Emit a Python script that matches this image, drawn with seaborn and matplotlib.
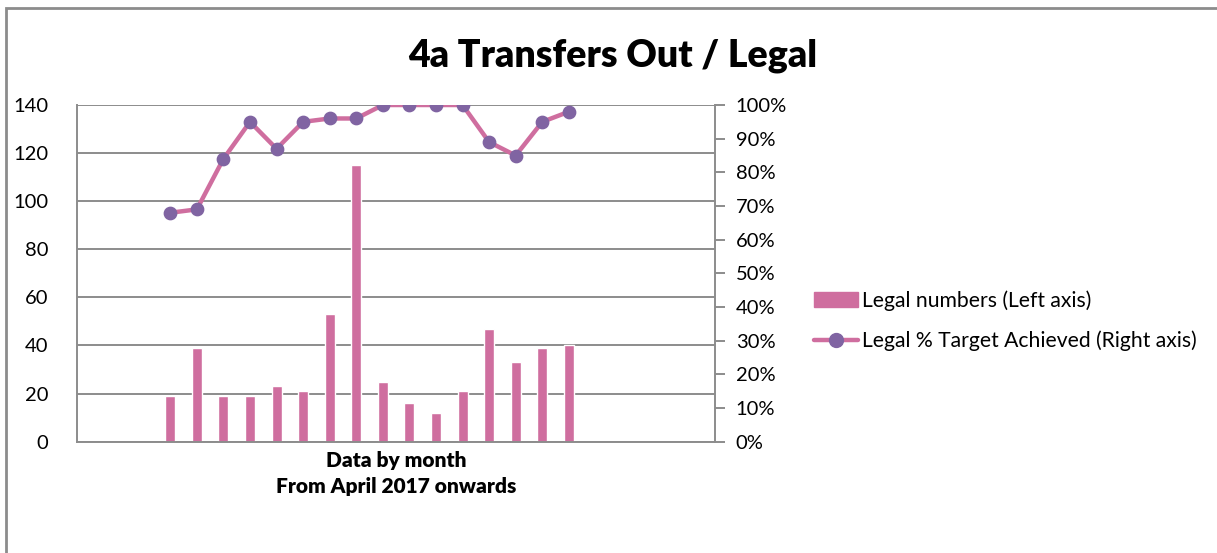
import numpy as np
import pandas as pd
import seaborn as sns
import matplotlib
matplotlib.use("Agg")
import matplotlib.pyplot as plt
from matplotlib.patches import Patch, Rectangle
from matplotlib.lines import Line2D
from matplotlib.ticker import PercentFormatter

# full month axis (Jan 2017 - Dec 2018), data only from April 2017
all_months = [f"{m} {y}" for y in (2017, 2018)
              for m in ["Jan", "Feb", "Mar", "Apr", "May", "Jun",
                        "Jul", "Aug", "Sep", "Oct", "Nov", "Dec"]]
data_months = all_months[3:19]

legal_numbers = [19, 39, 19, 19, 23, 21, 53, 115, 25, 16, 12, 21, 47, 33, 39, 40]
legal_pct = [0.68, 0.69, 0.84, 0.95, 0.87, 0.95, 0.96, 0.96,
             1.00, 1.00, 1.00, 1.00, 0.89, 0.85, 0.95, 0.98]

bar_label = "Legal numbers (Left axis)"
line_label = "Legal % Target Achieved (Right axis)"

pink = "#CF6E9F"
purple = "#8064A2"
grid_grey = "#8C8C8C"

df = pd.DataFrame({"month": data_months,
                   "numbers": legal_numbers,
                   "pct": legal_pct})

sns.set_style("white")
plt.rcParams["font.family"] = ["Lato", "DejaVu Sans"]
plt.rcParams["text.color"] = "black"
plt.rcParams["xtick.color"] = "black"
plt.rcParams["ytick.color"] = "black"
plt.rcParams["axes.labelcolor"] = "black"

fig = plt.figure(figsize=(12.17, 5.53), dpi=100)
ax = fig.add_axes([0.0635, 0.2013, 0.524, 0.6088])

sns.barplot(data=df, x="month", y="numbers", order=all_months,
            color=pink, saturation=1, width=0.38, ax=ax, zorder=2)
ax.set_ylim(0, 140)
ax.set_yticks(np.arange(0, 141, 20))
ax.yaxis.grid(True, color=grid_grey, lw=1.4)
ax.set_axisbelow(True)
ax.tick_params(axis="y", length=0, labelsize=14.5, pad=21)
ax.set_xticks([])
ax.set_ylabel("")
ax.set_xlabel("Data by month\nFrom April 2017 onwards",
              fontsize=15, fontweight="heavy", labelpad=7, linespacing=1.4)
for side in ["left", "bottom"]:
    ax.spines[side].set_color(grid_grey)
    ax.spines[side].set_linewidth(1.4)
for side in ["top", "right"]:
    ax.spines[side].set_visible(False)

ax2 = ax.twinx()
sns.pointplot(data=df, x="month", y="pct", order=all_months,
              color=pink, errorbar=None, markers="o", ax=ax2,
              linewidth=3.2, markersize=7.5)
for ln in ax2.lines:
    ln.set_markerfacecolor(purple)
    ln.set_markeredgecolor(purple)
ax2.set_ylim(0, 1)
ax2.set_yticks(np.arange(0, 1.01, 0.1))
ax2.yaxis.set_major_formatter(PercentFormatter(1.0, decimals=0))
ax2.tick_params(axis="y", length=7, width=1.4, color=grid_grey,
                labelcolor="black", labelsize=14.5, pad=8)
ax2.set_ylabel("")
ax2.set_xlabel("")
ax2.set_xticks([])
for side in ["top", "left", "bottom"]:
    ax2.spines[side].set_visible(False)
ax2.spines["right"].set_color(grid_grey)
ax2.spines["right"].set_linewidth(1.4)
ax.set_xlim(-0.5, len(all_months) - 0.5)

fig.suptitle("4a Transfers Out / Legal", x=0.5035, y=0.93,
             fontsize=27, fontweight="heavy")

handles = [Patch(facecolor=pink, edgecolor=pink),
           Line2D([], [], color=pink, lw=3.2, marker="o",
                  markersize=10, markerfacecolor=purple,
                  markeredgecolor=purple)]
fig.legend(handles, [bar_label, line_label], loc="center left",
           bbox_to_anchor=(0.662, 0.42), frameon=False, fontsize=15.2,
           handlelength=2.1, handletextpad=0.15, labelspacing=0.95,
           borderaxespad=0)

fig.patches.append(Rectangle((6 / 1217, -0.1), 1.2, 1.1 - 8.5 / 553,
                             transform=fig.transFigure, fill=False,
                             edgecolor="#8C8C8C", lw=2))

fig.savefig("out.png", dpi=100)
